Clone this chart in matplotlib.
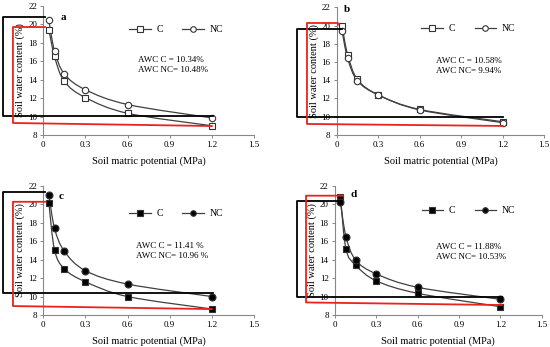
import matplotlib
matplotlib.use('Agg')
import matplotlib.pyplot as plt
from matplotlib.path import Path
from matplotlib.patches import PathPatch
import numpy as np

plt.rcParams['font.family'] = ['Liberation Serif', 'DejaVu Serif']

# Soil matric potential (MPa)
potential = [0.04, 0.08, 0.15, 0.3, 0.6, 1.2]

# Soil water content (%) per panel
a_C = [19.4, 16.5, 13.8, 12.05, 10.35, 9.0]
a_NC = [20.4, 17.1, 14.6, 12.9, 11.3, 9.85]
b_C = [19.9, 16.8, 14.1, 12.4, 10.8, 9.45]
b_NC = [19.35, 16.4, 13.95, 12.4, 10.75, 9.35]
c_C = [20.1, 15.05, 13.0, 11.6, 10.0, 8.65]
c_NC = [21.0, 17.4, 14.9, 12.8, 11.35, 10.0]
d_C = [20.8, 15.15, 13.4, 11.7, 10.35, 8.9]
d_NC = [20.2, 16.5, 13.95, 12.45, 11.0, 9.7]

awc_a = ['AWC C = 10.34%', 'AWC NC= 10.48%']
awc_b = ['AWC C = 10.58%', 'AWC NC= 9.94%']
awc_c = ['AWC C = 11.41 %', 'AWC NC= 10.96 %']
awc_d = ['AWC C = 11.88%', 'AWC NC= 10.53%']

# highlight boxes drawn over each panel (data coords): black and red outlines
box_a = ([0.012, -0.287, -0.287, 1.21], [20.78, 20.78, 10.06, 10.06],
         [0.012, -0.216, -0.216, 1.2], [19.69, 19.69, 9.30, 8.97])
box_b = ([0.038, -0.287, -0.287, 1.2], [19.62, 19.62, 9.97, 9.97],
         [0.01, 0.01, -0.214, -0.214, 1.2], [20.1, 20.28, 20.28, 9.21, 8.99])
box_c = ([0.012, -0.287, -0.287, 1.21], [21.32, 21.32, 10.35, 10.35],
         [0.012, -0.216, -0.216, 1.2], [20.26, 20.26, 8.97, 8.64])
box_d = ([0.036, -0.276, -0.276, 1.21], [20.34, 20.34, 9.98, 9.98],
         [0.058, -0.21, -0.21, 1.21], [20.92, 20.92, 9.36, 9.08])


def smooth_path(x, y):
    # Catmull-Rom style smoothed line as cubic bezier segments
    p = np.column_stack([x, y])
    n = len(p)
    verts = [p[0]]
    codes = [Path.MOVETO]
    for i in range(n - 1):
        p0 = p[i - 1] if i > 0 else p[i]
        p3 = p[i + 2] if i + 2 < n else p[i + 1]
        c1 = p[i] + (p[i + 1] - p0) / 6.0
        c2 = p[i + 1] - (p3 - p[i]) / 6.0
        verts += [c1, c2, p[i + 1]]
        codes += [Path.CURVE4] * 3
    return Path(verts, codes)


fig = plt.figure(figsize=(5.5, 3.47), dpi=100)
positions = [[0.0787, 0.611, 0.383, 0.3726],
             [0.612, 0.611, 0.3776, 0.368],
             [0.0787, 0.0922, 0.383, 0.3726],
             [0.609, 0.0922, 0.3758, 0.3726]]
panels = [
    ('a', a_C, a_NC, awc_a, box_a, False, (0.39, 0.88), (0.45, 0.58), (0.084, 0.91)),
    ('b', b_C, b_NC, awc_b, box_b, False, (0.39, 0.90), (0.478, 0.58), (0.035, 0.98)),
    ('c', c_C, c_NC, awc_c, box_c, True, (0.39, 0.85), (0.44, 0.535), (0.075, 0.92)),
    ('d', d_C, d_NC, awc_d, box_d, True, (0.40, 0.87), (0.49, 0.525), (0.077, 0.93)),
]

line_col = '#404040'
for pos, (lab, yc, ync, awc, box, filled, leg_xy, awc_xy, lab_xy) in zip(positions, panels):
    ax = fig.add_axes(pos)
    for yv in (yc, ync):
        ax.add_patch(PathPatch(smooth_path(potential, yv), facecolor='none',
                               edgecolor=line_col, lw=0.9, zorder=2))
    fc = 'black' if filled else 'white'
    ms_sq = 4.8 if filled else 4.3
    ms_ci = 5.0 if filled else 4.6
    ax.plot(potential, yc, ls='none', marker='s', ms=ms_sq, mfc=fc, mec='#333333',
            mew=0.8, zorder=3)
    ax.plot(potential, ync, ls='none', marker='o', ms=ms_ci, mfc=fc, mec='#333333',
            mew=0.8, zorder=3)
    # legend handles
    h1, = ax.plot([], [], color=line_col, lw=0.9, marker='s', ms=4.0, mfc=fc,
                  mec='#333333', mew=0.8, label='C')
    h2, = ax.plot([], [], color=line_col, lw=0.9, marker='o', ms=4.0, mfc=fc,
                  mec='#333333', mew=0.8, label='NC')
    ax.legend(handles=[h1, h2], ncol=2, frameon=False, loc='upper left',
              bbox_to_anchor=leg_xy, fontsize=7, handlelength=2.2,
              columnspacing=2.0, handletextpad=0.6, borderaxespad=0)

    ax.text(awc_xy[0], awc_xy[1], awc[0], transform=ax.transAxes, fontsize=6.5,
            va='center')
    ax.text(awc_xy[0], awc_xy[1] - 0.08, awc[1], transform=ax.transAxes,
            fontsize=6.5, va='center')
    ax.text(lab_xy[0], lab_xy[1], lab, transform=ax.transAxes, fontsize=8,
            fontweight='bold', va='center')

    ax.set_xlim(0, 1.5)
    ax.set_ylim(8, 22)
    ax.set_xticks([0, 0.3, 0.6, 0.9, 1.2, 1.5])
    ax.set_xticklabels(['0', '0.3', '0.6', '0.9', '1.2', '1.5'])
    ax.set_yticks(range(8, 23, 2))
    ax.tick_params(labelsize=6.5, length=2.5, width=0.7, color='#888888',
                   pad=2)
    for s in ('top', 'right'):
        ax.spines[s].set_visible(False)
    for s in ('left', 'bottom'):
        ax.spines[s].set_color('#888888')
        ax.spines[s].set_linewidth(0.8)
    ax.set_xlabel('Soil matric potential (MPa)', fontsize=7.5, labelpad=5)
    ax.set_ylabel('Soil water content (%)', fontsize=7.5)
    ax.yaxis.set_label_coords(-0.085, 0.5)

    # highlight outlines
    bx, by, rx, ry = box
    ax.plot(bx, by, color='black', lw=1.3, clip_on=False, zorder=4)
    ax.plot(rx, ry, color='#e8231f', lw=1.3, clip_on=False, zorder=4)

fig.savefig('out.png', dpi=100)
